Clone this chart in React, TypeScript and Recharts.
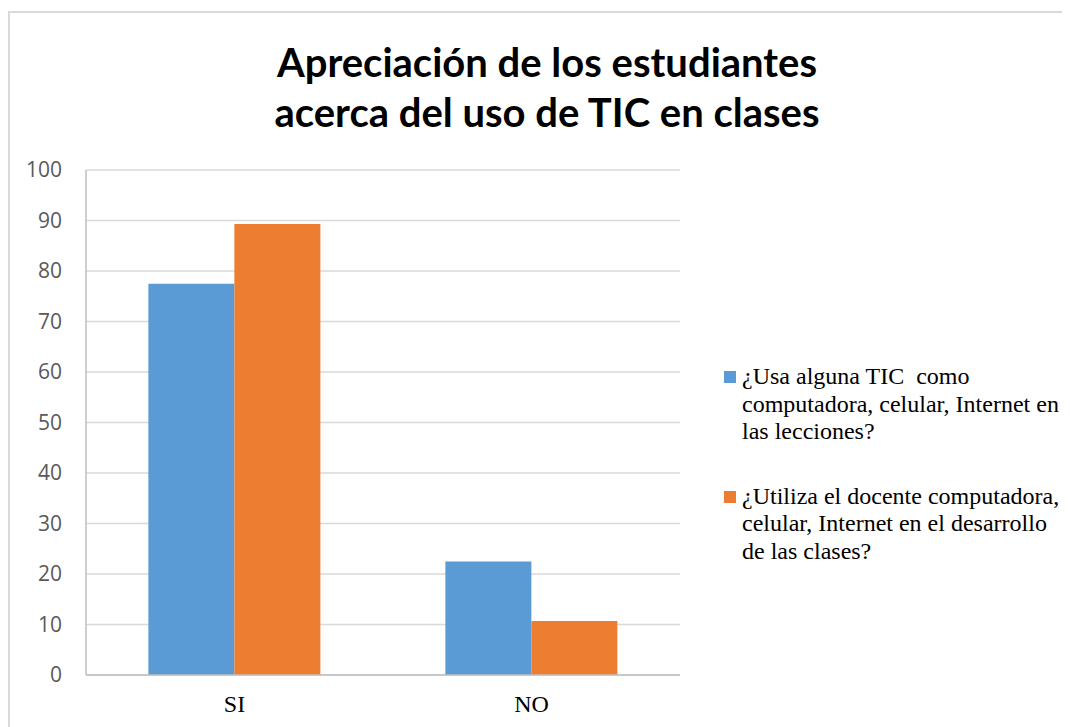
import React from 'react'
import { BarChart, Bar, XAxis, YAxis, CartesianGrid, Legend } from 'recharts'

const categories = ['SI', 'NO']
const usaTic = [77.5, 22.5]
const docenteTic = [89.3, 10.7]
const seriesNames = [
  '¿Usa alguna TIC  como computadora, celular, Internet en las lecciones?',
  '¿Utiliza el docente computadora, celular, Internet en el desarrollo de las clases?',
]
const seriesColors = ['#5b9bd5', '#ed7d31']
const yTicks = [0, 10, 20, 30, 40, 50, 60, 70, 80, 90, 100]

const data = categories.map((c, i) => ({ name: c, usa: usaTic[i], docente: docenteTic[i] }))

const renderLegend = (props: any) => {
  const { payload } = props
  return (
    <div>
      {payload.map((entry: any, i: number) => (
        <div key={i} style={{ display: 'flex', alignItems: 'flex-start', marginBottom: i === 0 ? 37 : 0 }}>
          <div style={{ width: 12, height: 12, background: entry.color, marginTop: 8, marginRight: 6, flexShrink: 0 }} />
          <div
            style={{
              width: 330,
              fontFamily: '"Liberation Serif", "Times New Roman", serif',
              fontSize: 24,
              lineHeight: '27.6px',
              color: '#000',
              whiteSpace: 'pre-wrap',
            }}
          >
            {entry.value}
          </div>
        </div>
      ))}
    </div>
  )
}

export default function App() {
  return (
    <div style={{ position: 'relative', width: 1062, height: 719, overflow: 'hidden', background: '#fff' }}>
      <div
        style={{
          position: 'absolute',
          left: 0,
          top: 3,
          width: 1100,
          height: 800,
          border: '2px solid #d9d9d9',
        }}
      />
      <div
        style={{
          position: 'absolute',
          left: 0,
          top: 29,
          width: 1078,
          textAlign: 'center',
          fontFamily: 'Lato, "Open Sans", sans-serif',
          fontWeight: 700,
          fontSize: 40,
          lineHeight: '50px',
          color: '#000',
        }}
      >
        Apreciación de los estudiantes
        <br />
        acerca del uso de TIC en clases
      </div>
      <div style={{ position: 'absolute', left: 0, top: 0 }}>
        <BarChart
          width={1062}
          height={719}
          data={data}
          margin={{ top: 162, right: 390, left: 0, bottom: 22 }}
          barCategoryGap="21%"
          barGap={0}
        >
          <CartesianGrid vertical={false} stroke="#d9d9d9" strokeWidth={1.5} />
          <XAxis
            dataKey="name"
            axisLine={{ stroke: '#bfbfbf', strokeWidth: 1.5 }}
            tickLine={false}
            tickMargin={14}
            height={30}
            tick={{ fill: '#000', fontSize: 24, fontFamily: '"Liberation Serif", "Times New Roman", serif' }}
          />
          <YAxis
            domain={[0, 100]}
            ticks={yTicks}
            width={78}
            axisLine={{ stroke: '#bfbfbf', strokeWidth: 1.5 }}
            tickLine={false}
            tickSize={0}
            tickMargin={24}
            interval={0}
            tick={{ fill: '#595959', fontSize: 21, fontFamily: '"Open Sans", sans-serif' }}
          />
          <Bar dataKey="usa" name={seriesNames[0]} fill={seriesColors[0]} isAnimationActive={false} />
          <Bar dataKey="docente" name={seriesNames[1]} fill={seriesColors[1]} isAnimationActive={false} />
          <Legend
            layout="horizontal"
            verticalAlign="middle"
            align="center"
            content={renderLegend}
            wrapperStyle={{ left: 716, top: 355, width: 345 }}
          />
        </BarChart>
      </div>
    </div>
  )
}
